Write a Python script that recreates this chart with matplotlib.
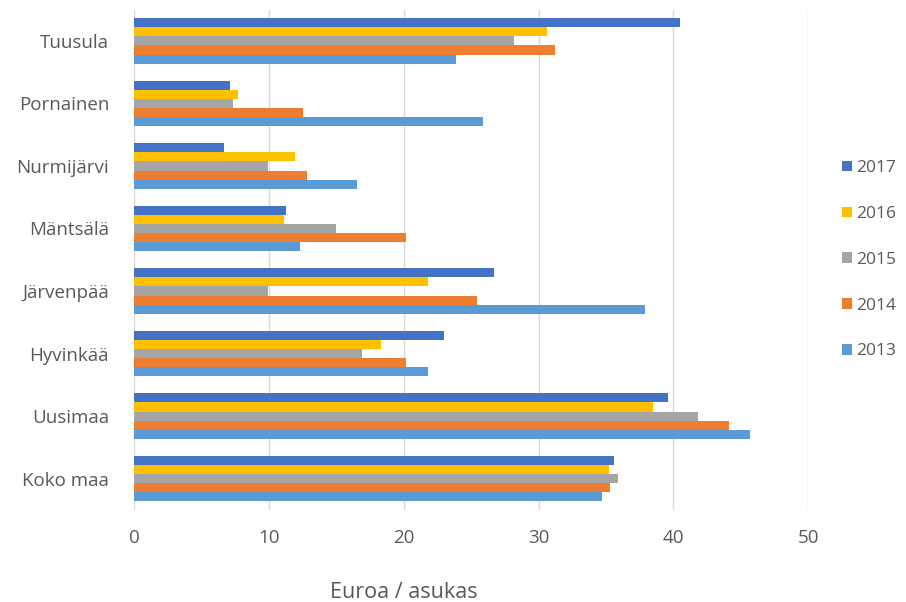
import numpy as np
from matplotlib import pyplot as plt

# ----------------- data -----------------
kunnat = ["Koko maa", "Uusimaa", "Hyvinkää", "Järvenpää", "Mäntsälä",
          "Nurmijärvi", "Pornainen", "Tuusula"]
vuodet = ["2013", "2014", "2015", "2016", "2017"]

v2013 = [34.7, 45.7, 21.8, 37.9, 12.3, 16.5, 25.9, 23.9]
v2014 = [35.3, 44.1, 20.2, 25.4, 20.2, 12.8, 12.5, 31.2]
v2015 = [35.9, 41.8, 16.9, 9.9, 15.0, 9.9, 7.3, 28.2]
v2016 = [35.2, 38.5, 18.3, 21.8, 11.1, 11.9, 7.7, 30.6]
v2017 = [35.6, 39.6, 23.0, 26.7, 11.3, 6.7, 7.1, 40.5]

varit = ["#5B9BD5", "#ED7D31", "#A5A5A5", "#FFC000", "#4472C4"]

# ----------------- plot -----------------
plt.rcParams['font.family'] = ['Open Sans', 'DejaVu Sans']
fig = plt.figure(figsize=(9.06, 6.02), dpi=100)
ax = fig.add_axes([0.148, 0.153, 0.744, 0.831])

y = np.arange(len(kunnat))
h = 0.146
sarjat = [v2013, v2014, v2015, v2016, v2017]
for i, (vuosi, arvot) in enumerate(zip(vuodet, sarjat)):
    ax.barh(y + (i - 2) * h, arvot, height=h, color=varit[i], label=vuosi, zorder=3)

ax.set_xlim(0, 50)
ax.set_ylim(-0.5, 7.5)
ax.set_xticks(range(0, 51, 10))
ax.set_yticks(y)
ax.set_yticklabels(kunnat)
ax.grid(axis='x', color='#D9D9D9', linewidth=1, zorder=0)
for s in ax.spines.values():
    s.set_visible(False)
ax.tick_params(axis='y', length=0, labelsize=13.5, colors='#595959', pad=18)
ax.tick_params(axis='x', length=0, labelsize=13.5, colors='#595959', pad=14)
ax.set_xlabel("Euroa / asukas", fontsize=15.5, color='#595959')
ax.xaxis.set_label_coords(0.40, -0.145)

handles, labels = ax.get_legend_handles_labels()
ax.legend(handles[::-1], labels[::-1], loc='center left', bbox_to_anchor=(1.04, 0.5),
          frameon=False, fontsize=12.5, labelcolor='#595959', handlelength=0.55,
          handleheight=0.55, handletextpad=0.25, labelspacing=1.72, borderaxespad=0)

plt.savefig("out.png", dpi=100)
plt.close()
